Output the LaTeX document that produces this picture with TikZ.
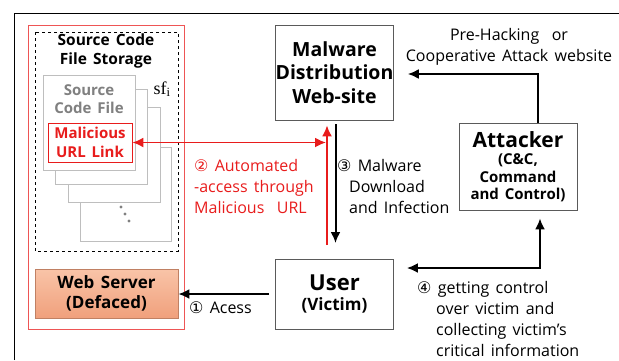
\documentclass[tikz,border=0pt]{standalone}
\usepackage{fontspec}
\setmainfont{Open Sans}[WordSpace=1.5]
\newfontfamily\serif{Liberation Serif}
\newfontfamily\circled{DejaVu Sans}
\usepackage{tikz}
\usetikzlibrary{arrows.meta}
\definecolor{atkred}{RGB}{232,28,28}
\definecolor{frame}{RGB}{90,90,90}
\definecolor{pagegray}{RGB}{190,190,190}
\definecolor{webtop}{RGB}{249,196,168}
\definecolor{webbot}{RGB}{240,160,124}
\newcommand{\fs}[2]{\fontsize{#1}{#2}\selectfont}
\newcommand{\num}[1]{{\circled #1}~}

\begin{document}
\begin{tikzpicture}[x=1pt,y=-1pt,
every node/.style={inner sep=0pt,align=center,font=\fs{16}{21}},
box/.style={draw=frame,line width=0.8pt,fill=white},
blk/.style={-{Latex[length=11pt,width=10pt]},line width=2pt},
redarr/.style={-{Latex[length=11pt,width=10pt]},line width=1.8pt,draw=atkred},
lbl/.style={anchor=north west,align=left}]
\useasboundingbox (0,0) rectangle (619,360);
\draw[line width=1pt] (14,360) -- (14,13) -- (619,13);

% web server side
\draw[atkred!75,line width=0.8pt] (28,25) rectangle (184,329);
\draw[dashed,line width=0.5pt] (35,32) rectangle (178,251);
\node[font=\bfseries\fs{15.5}{19}](storage) at (106,51) {Source Code\\File Storage};
\def\pages{80/147/171/241,68/107/160/202,55/89/147/184,43/75/135/170}
\foreach \xa/\ya/\xb/\yb in \pages{
	\draw[draw=pagegray,fill=white,line width=0.8pt] (\xa,\ya) rectangle (\xb,\yb);
}
\foreach \x/\y in {121/207,125/214,129/221}{
	\fill[gray] (\x,\y) circle (1.6pt);
}
\node[font=\serif\fs{18}{18}](sfi) at (162,89) {sf\textsubscript{i}};
\node[font=\bfseries\fs{15}{18},text=gray](srcfile) at (89,99) {Source\\Code File};
\node[draw=atkred,fill=white,line width=0.8pt,minimum width=84pt,minimum height=39pt,
	font=\bfseries\fs{15}{19},text=atkred](url) at (90,142.5) {Malicious\\URL Link};
\node[draw=webbot!80!black,top color=webtop,bottom color=webbot,line width=0.8pt,
	minimum width=143pt,minimum height=49pt,font=\bfseries\fs{17}{20}](web) at (106.5,293.5) {Web Server\\(Defaced)};

% the other boxes
\node[box,minimum width=117pt,minimum height=95pt,font=\bfseries\fs{19.5}{23.5}](malware) at (334.5,72.5) {Malware\\Distribution\\Web-site};
\node[box,minimum width=118pt,minimum height=87pt,font=\bfseries\fs{15}{17.5}](attacker) at (518,166.5)
	{{\fs{21}{24}Attacker}\\(C\&C,\\Command\\and Control)};
\node[box,minimum width=118pt,minimum height=70pt,font=\bfseries\fs{17}{20}](user) at (334.5,294)
	{{\fs{22}{24}User}\\(Victim)};

% connectors
\coordinate(rv) at (327,245);
\coordinate(bv) at (335.5,243);
\draw[redarr,shorten >=5pt] (rv) -- (rv |- malware.south);
\draw[redarr,{Latex[length=11pt,width=10pt]}-{Latex[length=11pt,width=10pt]},shorten >=1pt] (url.east) -- (url.east -| rv);
\draw[blk,shorten <=4pt] (bv |- malware.south) -- (bv);
\draw[blk,shorten <=6pt] (user.west) -- (user.west -| web.east);
\draw[blk,{Latex[length=11pt,width=10pt]}-{Latex[length=11pt,width=10pt]},shorten <=13pt,shorten >=8pt] ([yshift=26pt]user.east) -| ([xshift=22pt]attacker.south);
\draw[blk,shorten >=14pt] ([xshift=20pt]attacker.north) |- ([yshift=-1.5pt]malware.east);

% labels
\node(prehack) at (509,47) {Pre-Hacking~~or\\Cooperative Attack website};
\node[lbl,text=atkred](auto) at (194,159) {\num{②}Automated\\-access through\\Malicious~~URL};
\node[lbl](infect) at (337,159) {\num{③}Malware\\\hspace*{12pt}Download\\\hspace*{12pt}and Infection};
\node[anchor=west](access) at (189,308) {\num{①}Acess};
\node[lbl](control) at (417,281) {\num{④}getting control\\\hspace*{19pt}over victim and\\\hspace*{19pt}collecting victim’s\\\hspace*{19pt}critical information};
\end{tikzpicture}
\end{document}
